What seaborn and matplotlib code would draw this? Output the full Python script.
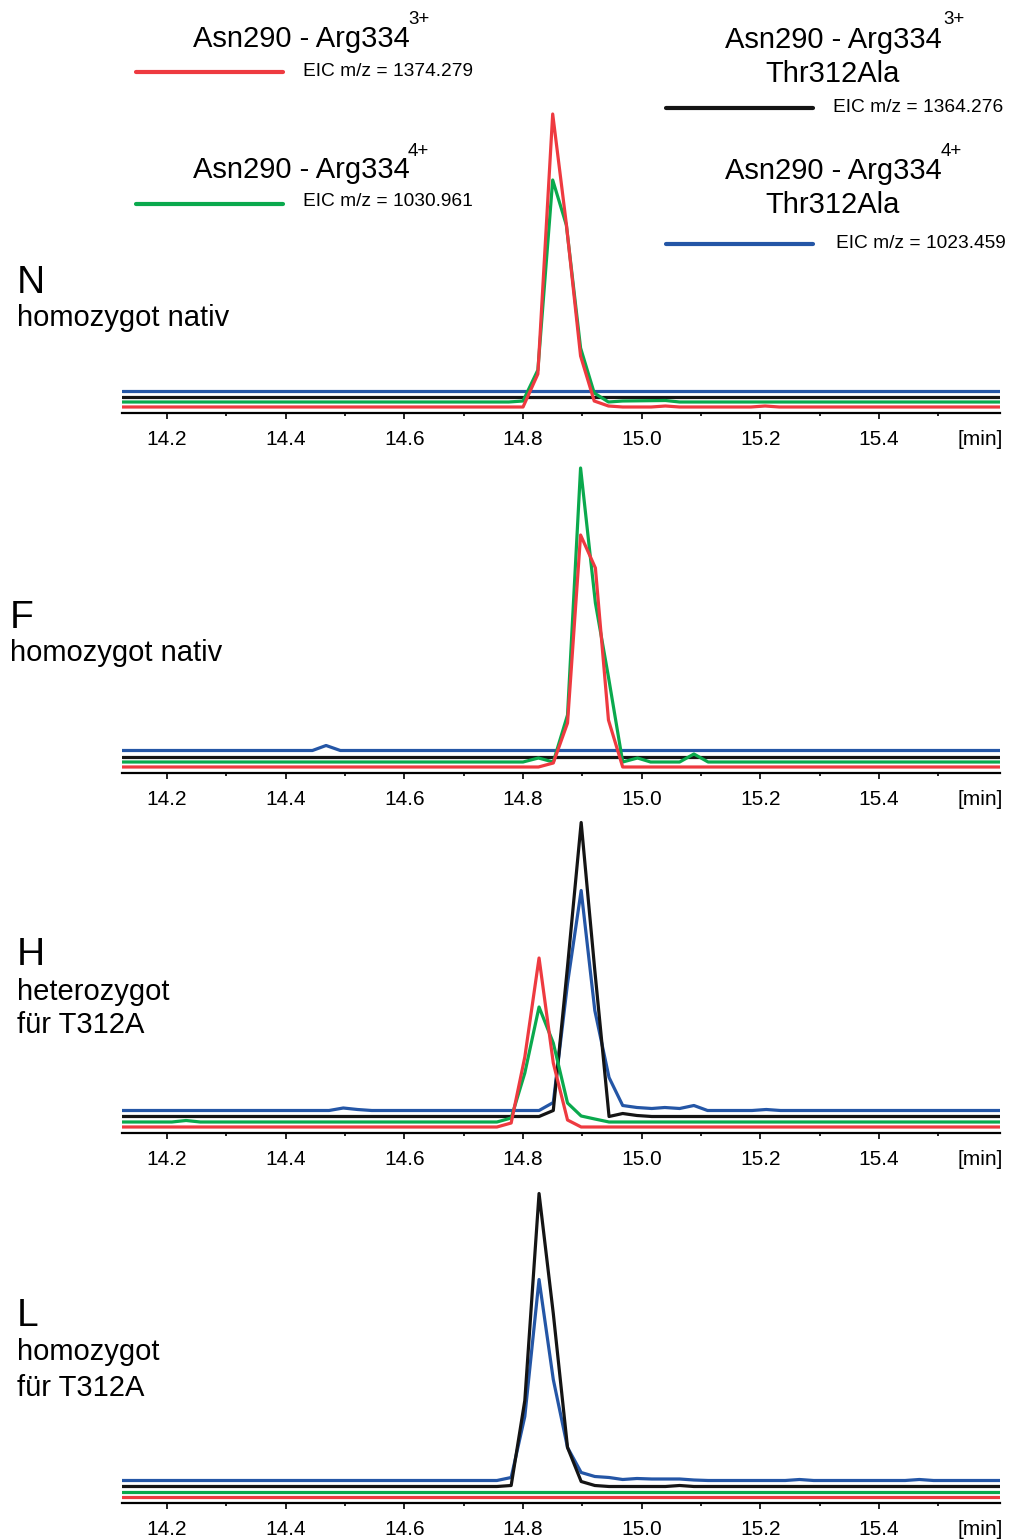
import pandas as pd
import seaborn as sns
import matplotlib.pyplot as plt
from matplotlib.lines import Line2D
from matplotlib.ticker import FixedLocator, FixedFormatter

sns.set_style("white")
plt.rcParams['font.family'] = ['Liberation Sans', 'DejaVu Sans']
plt.rcParams['text.color'] = 'black'

W, H = 1009, 1540
T0, T1 = 14.124, 15.604

# x axis
MAJOR_TICKS = [14.2, 14.4, 14.6, 14.8, 15.0, 15.2, 15.4]
MAJOR_LABELS = ["14.2", "14.4", "14.6", "14.8", "15.0", "15.2", "15.4"]
MINOR_TICKS = [14.3, 14.5, 14.7, 14.9, 15.1, 15.3, 15.5]

TRACES = ["blue", "black", "green", "red"]   # draw order, red on top
COLORS = {"red": "#ee3a40", "green": "#0aa94d", "black": "#141414", "blue": "#2456a6"}

# (retention time [min], intensity above the trace's own baseline)
# --- N, homozygot nativ
n_red = [(T0, 0), (14.800, 0), (14.825, 33), (14.850, 293), (14.873, 183), (14.897, 51),
         (14.920, 6), (14.944, 1), (14.968, 0), (15.016, 0), (15.040, 1), (15.064, 0),
         (15.184, 0), (15.208, 1), (15.232, 0), (T1, 0)]
n_green = [(T0, 0), (14.776, 0), (14.800, 1), (14.825, 32), (14.850, 222), (14.873, 177),
           (14.897, 54), (14.920, 9), (14.944, 0), (14.968, 1), (15.040, 1.5), (15.064, 0), (T1, 0)]
n_black = [(T0, 0), (T1, 0)]
n_blue = [(T0, 0), (T1, 0)]

# --- F, homozygot nativ
f_red = [(T0, 0), (14.826, 0), (14.851, 4), (14.875, 44), (14.897, 232), (14.922, 199),
         (14.944, 47), (14.968, 0), (T1, 0)]
f_green = [(T0, 0), (14.800, 0), (14.826, 4), (14.851, 0), (14.875, 47), (14.897, 294),
           (14.922, 159), (14.944, 85), (14.968, 0), (14.993, 4), (15.015, 0), (15.064, 0),
           (15.088, 8), (15.112, 0), (T1, 0)]
f_black = [(T0, 0), (T1, 0)]
f_blue = [(T0, 0), (14.445, 0), (14.468, 5), (14.492, 0), (T1, 0)]

# --- H, heterozygot fuer T312A
h_red = [(T0, 0), (14.756, 0), (14.780, 4), (14.803, 70), (14.827, 169), (14.851, 64),
         (14.875, 7), (14.898, 0), (T1, 0)]
h_green = [(T0, 0), (14.208, 0), (14.232, 1.5), (14.256, 0), (14.756, 0), (14.780, 4),
           (14.803, 49), (14.827, 115), (14.851, 79), (14.875, 19), (14.898, 6),
           (14.921, 3), (14.945, 0), (T1, 0)]
h_black = [(T0, 0), (14.827, 0), (14.851, 6), (14.875, 150), (14.898, 294), (14.921, 146),
           (14.945, 0), (14.968, 3), (14.992, 1), (15.017, 0), (T1, 0)]
h_blue = [(T0, 0), (14.473, 0), (14.497, 2.5), (14.521, 1), (14.545, 0), (14.827, 0),
          (14.851, 8), (14.875, 127), (14.898, 220), (14.921, 100), (14.945, 33),
          (14.968, 5), (14.992, 3), (15.017, 2), (15.039, 3), (15.064, 2), (15.088, 5),
          (15.111, 0), (15.186, 0), (15.210, 1), (15.234, 0), (T1, 0)]

# --- L, homozygot fuer T312A
l_red = [(T0, 0), (T1, 0)]
l_green = [(T0, 0), (T1, 0)]
l_black = [(T0, 0), (14.756, 0), (14.780, 1), (14.803, 86), (14.827, 293), (14.851, 173),
           (14.875, 39), (14.898, 5), (14.921, 1), (14.945, 0), (15.040, 0), (15.064, 1),
           (15.088, 0), (T1, 0)]
l_blue = [(T0, 0), (14.756, 0), (14.780, 3), (14.803, 64), (14.827, 201), (14.851, 101),
          (14.875, 33), (14.898, 8), (14.921, 4), (14.945, 3), (14.968, 1), (14.992, 2),
          (15.017, 1.5), (15.064, 1.5), (15.088, 0.5), (15.112, 0), (15.242, 0), (15.266, 1),
          (15.290, 0), (15.444, 0), (15.468, 1), (15.492, 0), (T1, 0)]

PANELS = [
    {"traces": {"red": n_red, "green": n_green, "black": n_black, "blue": n_blue}},
    {"traces": {"red": f_red, "green": f_green, "black": f_black, "blue": f_blue}},
    {"traces": {"red": h_red, "green": h_green, "black": h_black, "blue": h_blue}},
    {"traces": {"red": l_red, "green": l_green, "black": l_black, "blue": l_blue}},
]
PANEL_LABELS = [("N", ["homozygot nativ"]), ("F", ["homozygot nativ"]),
                ("H", ["heterozygot", "für T312A"]), ("L", ["homozygot", "für T312A"])]

# layout (pixels)
AXIS_Y = [413, 773, 1133, 1503]
AX_HEIGHT = 320
OFFSET = {"red": 6, "green": 11, "black": 16.5, "blue": 22.5}
LABEL_POS = [(17, 293, [326]), (10, 628, [661]), (17, 965, [1000, 1033]), (17, 1326, [1360, 1396])]


def fx(x):
    return x / W


def fy(y):
    return 1 - y / H


fig = plt.figure(figsize=(W / 100, H / 100), dpi=100)

for panel, axis_y in zip(PANELS, AXIS_Y):
    ax = fig.add_axes([fx(122), fy(axis_y), (1000 - 122) / W, AX_HEIGHT / H])
    rows = []
    for name, pts in panel["traces"].items():
        for t, v in pts:
            rows.append({"time": t, "y": v + OFFSET[name], "trace": name})
    df = pd.DataFrame(rows)
    sns.lineplot(data=df, x="time", y="y", hue="trace", hue_order=TRACES, palette=COLORS,
                 estimator=None, sort=False, legend=False, linewidth=2.3, ax=ax)
    ax.set_xlim(T0, T1)
    ax.set_ylim(0, AX_HEIGHT)
    for s in ["top", "left", "right"]:
        ax.spines[s].set_visible(False)
    ax.spines["bottom"].set_linewidth(1.6)
    ax.spines["bottom"].set_color("black")
    ax.xaxis.set_major_locator(FixedLocator(MAJOR_TICKS))
    ax.xaxis.set_major_formatter(FixedFormatter(MAJOR_LABELS))
    ax.xaxis.set_minor_locator(FixedLocator(MINOR_TICKS))
    ax.tick_params(axis="x", which="major", direction="out", length=4, width=1.2,
                   pad=8, labelsize=15, colors="black", bottom=True)
    ax.tick_params(axis="x", which="minor", direction="out", length=2.5, width=1.2,
                   bottom=True, color="black")
    ax.set_yticks([])
    ax.set_xlabel("")
    ax.set_ylabel("")
    ax.text(15.571, -32, "[min]", ha="center", va="baseline", fontsize=15, clip_on=False)

# panel labels
for (letter, lines), (x, y, ys) in zip(PANEL_LABELS, LABEL_POS):
    fig.text(fx(x), fy(y), letter, fontsize=28, va="baseline", ha="left")
    for line, yy in zip(lines, ys):
        fig.text(fx(x), fy(yy), line, fontsize=21, va="baseline", ha="left")

# legend
LEGEND = [
    # name lines, baselines, charge, charge pos, colour, line y, line x, eic text, eic pos, centre x
    (["Asn290 - Arg334"], [47], "3+", (408, 24), "red", 72, 136, "EIC m/z = 1374.279", (303, 76), 301),
    (["Asn290 - Arg334"], [178], "4+", (408, 156), "green", 204, 136, "EIC m/z = 1030.961", (303, 206), 301),
    (["Asn290 - Arg334", "Thr312Ala"], [48, 82], "3+", (943, 24), "black", 108, 666,
     "EIC m/z = 1364.276", (833, 112), 833),
    (["Asn290 - Arg334", "Thr312Ala"], [179, 213], "4+", (941, 156), "blue", 244, 666,
     "EIC m/z = 1023.459", (836, 248), 833),
]
for names, bls, charge, cpos, col, ly, lx, eic, epos, cx in LEGEND:
    for name, bl in zip(names, bls):
        fig.text(fx(cx), fy(bl), name, fontsize=21, ha="center", va="baseline")
    fig.text(fx(cpos[0]), fy(cpos[1]), charge, fontsize=13.5, ha="left", va="baseline")
    fig.add_artist(Line2D([fx(lx), fx(lx + 147)], [fy(ly), fy(ly)], color=COLORS[col],
                          linewidth=3, transform=fig.transFigure))
    fig.text(fx(epos[0]), fy(epos[1]), eic, fontsize=13.8, ha="left", va="baseline")

fig.savefig("out.png", dpi=100)
